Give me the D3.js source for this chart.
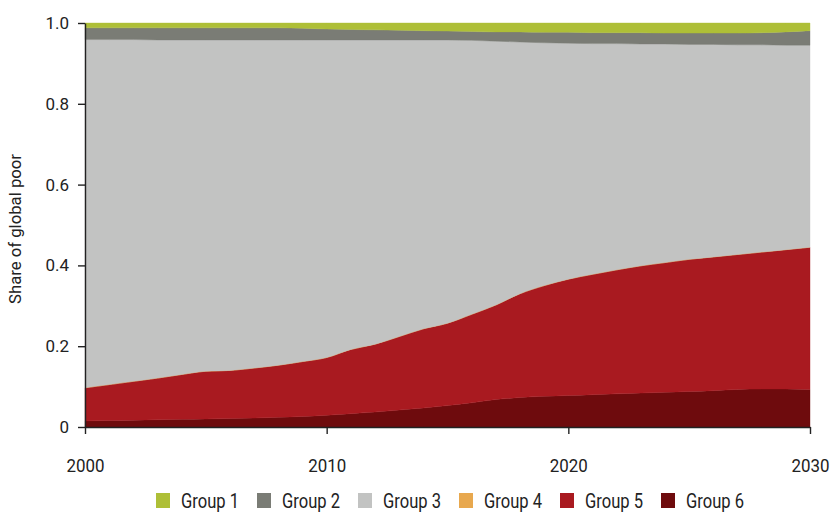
<!DOCTYPE html>
<html>
<head>
<meta charset="utf-8">
<script src="https://cdn.jsdelivr.net/npm/d3@7"></script>
<style>
  html, body { margin: 0; padding: 0; background: #fff; }
  svg text { font-family: "Roboto", "Liberation Sans", sans-serif; fill: #222; }
</style>
</head>
<body>
<svg id="chart" width="833" height="512"></svg>
<script>
// ---- data ----
const years = d3.range(2000, 2031);
const groups = ["Group 1", "Group 2", "Group 3", "Group 4", "Group 5", "Group 6"];
const colors = ["#AEBF37", "#7A7C75", "#C2C3C2", "#E8A84E", "#A91A20", "#6E0B0D"];
// cumulative boundaries (top of each band)
const group6Top = [0.015,0.016,0.017,0.018,0.019,0.020,0.021,0.022,0.024,0.026,0.029,0.033,0.037,0.042,0.047,0.053,0.060,0.068,0.073,0.076,0.078,0.080,0.082,0.084,0.086,0.088,0.090,0.093,0.094,0.094,0.093];
const group5Top = [0.097,0.105,0.113,0.121,0.130,0.138,0.140,0.146,0.153,0.162,0.172,0.192,0.205,0.224,0.243,0.257,0.279,0.302,0.330,0.350,0.366,0.378,0.389,0.399,0.407,0.415,0.421,0.427,0.433,0.439,0.445];
const group3Top = [0.959,0.959,0.959,0.958,0.958,0.958,0.958,0.958,0.958,0.958,0.958,0.958,0.958,0.958,0.958,0.958,0.957,0.955,0.953,0.951,0.950,0.949,0.949,0.948,0.948,0.947,0.947,0.946,0.946,0.945,0.945];
const group2Top = [0.988,0.988,0.988,0.988,0.988,0.988,0.988,0.988,0.988,0.987,0.985,0.984,0.983,0.982,0.981,0.980,0.979,0.978,0.978,0.977,0.977,0.976,0.976,0.976,0.975,0.975,0.975,0.975,0.976,0.978,0.981];
const group1Top = years.map(() => 1.0);
const yTicks = [0, 0.2, 0.4, 0.6, 0.8, 1.0];
const yTickLabels = ["0", "0.2", "0.4", "0.6", "0.8", "1.0"];
const xTicks = [2000, 2010, 2020, 2030];

// per-group shares
const share = {
  "Group 6": group6Top.map(v => v),
  "Group 5": group5Top.map((v, i) => v - group6Top[i]),
  "Group 4": years.map(() => 0),
  "Group 3": group3Top.map((v, i) => v - group5Top[i]),
  "Group 2": group2Top.map((v, i) => v - group3Top[i]),
  "Group 1": group1Top.map((v, i) => v - group2Top[i])
};
const table = years.map((y, i) => {
  const row = { year: y };
  groups.forEach(g => row[g] = share[g][i]);
  return row;
});

// ---- chart ----
const svg = d3.select("#chart");
const x = d3.scaleLinear().domain([2000, 2030]).range([85, 810]);
const y = d3.scaleLinear().domain([0, 1]).range([427, 23]);

const stackOrder = ["Group 6", "Group 5", "Group 4", "Group 3", "Group 2", "Group 1"];
const series = d3.stack().keys(stackOrder)(table);
const area = d3.area()
  .x(d => x(d.data.year))
  .y0(d => y(d[0]))
  .y1(d => y(d[1]))
  .curve(d3.curveMonotoneX);

svg.append("g").selectAll("path")
  .data(series)
  .join("path")
  .attr("d", area)
  .attr("fill", d => colors[groups.indexOf(d.key)])
  .attr("stroke", d => colors[groups.indexOf(d.key)])
  .attr("stroke-width", 0.4);

// y axis
const yAxis = d3.axisLeft(y).tickValues(yTicks)
  .tickFormat((d, i) => yTickLabels[i]).tickSize(7).tickSizeOuter(0);
const gy = svg.append("g").attr("transform", "translate(85,0)").call(yAxis);
gy.select(".domain").attr("stroke", "#222").attr("stroke-width", 1.4);
gy.selectAll(".tick line").attr("stroke", "#222").attr("stroke-width", 1.4);
gy.selectAll(".tick text").attr("font-size", 17).attr("x", -16);

// x axis
const xAxis = d3.axisBottom(x).tickValues(xTicks).tickFormat(d3.format("d"))
  .tickSize(7).tickSizeOuter(0);
const gx = svg.append("g").attr("transform", "translate(0,427)").call(xAxis);
gx.select(".domain").attr("stroke", "#222").attr("stroke-width", 1.4);
gx.selectAll(".tick line").attr("stroke", "#222").attr("stroke-width", 1.4);
gx.selectAll(".tick text").attr("font-size", 18.5).attr("y", 44.5).attr("dy", 0)
  .attr("textLength", 38).attr("lengthAdjust", "spacingAndGlyphs");

// y title
svg.append("text")
  .attr("transform", "translate(21,229) rotate(-90)")
  .attr("text-anchor", "middle")
  .attr("font-size", 16.5)
  .attr("textLength", 150).attr("lengthAdjust", "spacingAndGlyphs")
  .text("Share of global poor");

// legend
const legend = svg.append("g");
groups.forEach((g, i) => {
  const lx = 156 + i * 101;
  legend.append("rect").attr("x", lx).attr("y", 493).attr("width", 14).attr("height", 15)
    .attr("fill", colors[i]);
  legend.append("text")
    .attr("x", lx + 25).attr("y", 508)
    .attr("font-size", 21)
    .attr("textLength", 58).attr("lengthAdjust", "spacingAndGlyphs")
    .text(g);
});
</script>
</body>
</html>
